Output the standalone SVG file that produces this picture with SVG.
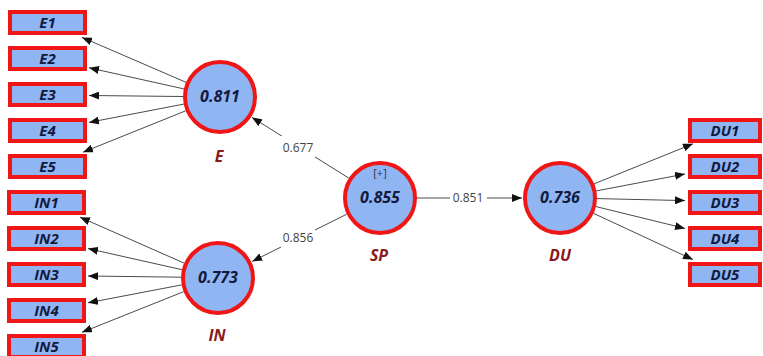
<svg xmlns="http://www.w3.org/2000/svg" width="763" height="356" viewBox="0 0 763 356">
  <style>
    .ind rect { fill: #8fb5f3; stroke: #f01616; stroke-width: 4; }
    .ind text { font-family: "Open Sans", "Noto Sans", sans-serif; font-size: 15px; font-weight: bold; font-style: italic; fill: #141a3c; text-anchor: middle; }
    .lv circle { fill: #8fb5f3; stroke: #f01616; stroke-width: 4; }
    .lv .val { font-family: "Open Sans", "Noto Sans", sans-serif; font-size: 16px; font-weight: bold; font-style: italic; fill: #141a3c; text-anchor: middle; }
    .lv .name { font-family: "Open Sans", "Noto Sans", sans-serif; font-size: 16px; font-weight: bold; font-style: italic; fill: #8b1a1a; text-anchor: middle; }
    .lv .plus { font-family: "Open Sans", "Noto Sans", sans-serif; font-size: 11px; fill: #333; text-anchor: middle; }
    .edge { stroke: #4a4a4a; stroke-width: 1; fill: none; marker-end: url(#arrow); }
    .coef rect { fill: #ffffff; }
    .coef text { font-family: "Open Sans", "Noto Sans", sans-serif; font-size: 12px; fill: #444; text-anchor: middle; }
  </style>
  <defs>
    <marker id="arrow" markerUnits="userSpaceOnUse" markerWidth="10" markerHeight="8" refX="10" refY="4" orient="auto">
      <path d="M0,0 L10,4 L0,8 z" fill="#111"/>
    </marker>
  </defs>

  <!-- connectors -->
  <g id="connectors">
    <!-- E loadings -->
    <line class="edge" x1="186" y1="82.3" x2="82" y2="37.4"/>
    <line class="edge" x1="183.9" y1="88.9" x2="89" y2="67.8"/>
    <line class="edge" x1="183" y1="96.5" x2="89" y2="95.5"/>
    <line class="edge" x1="183.7" y1="104.1" x2="89" y2="122.4"/>
    <line class="edge" x1="185.7" y1="110.8" x2="83" y2="152.2"/>
    <!-- IN loadings -->
    <line class="edge" x1="184.1" y1="263.1" x2="80" y2="217.2"/>
    <line class="edge" x1="182" y1="269.7" x2="88" y2="248.6"/>
    <line class="edge" x1="181" y1="277.2" x2="88" y2="276"/>
    <line class="edge" x1="181.7" y1="284.9" x2="88" y2="302.8"/>
    <line class="edge" x1="183.6" y1="291.7" x2="82" y2="332.3"/>
    <!-- DU loadings -->
    <line class="edge" x1="594.2" y1="183.8" x2="693" y2="143.8"/>
    <line class="edge" x1="596.3" y1="190.9" x2="685" y2="174"/>
    <line class="edge" x1="597" y1="198.6" x2="685" y2="200.6"/>
    <line class="edge" x1="596" y1="206.6" x2="685" y2="228.4"/>
    <line class="edge" x1="593.6" y1="213.4" x2="693" y2="259.6"/>
    <!-- structural paths -->
    <line class="edge" x1="348.8" y1="178.1" x2="252" y2="117.4"/>
    <line class="edge" x1="346.7" y1="214.2" x2="252.2" y2="261.4"/>
    <line class="edge" x1="417" y1="198" x2="522" y2="198"/>
    <g class="coef">
      <rect x="281" y="136" width="34" height="22"/>
      <text x="298" y="152">0.677</text>
      <rect x="281" y="228" width="34" height="20"/>
      <text x="298" y="242">0.856</text>
      <rect x="450" y="191" width="37" height="14"/>
      <text x="468" y="202">0.851</text>
    </g>
  </g>

  <!-- indicators of E -->
  <g id="E1" class="ind"><rect x="10" y="12" width="75" height="21"/><text x="47.5" y="28">E1</text></g>
  <g id="E2" class="ind"><rect x="10" y="48" width="75" height="21"/><text x="47.5" y="64">E2</text></g>
  <g id="E3" class="ind"><rect x="10" y="84" width="75" height="21"/><text x="47.5" y="100">E3</text></g>
  <g id="E4" class="ind"><rect x="10" y="120" width="75" height="21"/><text x="47.5" y="136">E4</text></g>
  <g id="E5" class="ind"><rect x="10" y="156" width="75" height="21"/><text x="47.5" y="172">E5</text></g>

  <!-- indicators of IN -->
  <g id="IN1" class="ind"><rect x="9" y="192" width="75" height="21"/><text x="46.5" y="208">IN1</text></g>
  <g id="IN2" class="ind"><rect x="9" y="228" width="75" height="21"/><text x="46.5" y="244">IN2</text></g>
  <g id="IN3" class="ind"><rect x="9" y="264" width="75" height="21"/><text x="46.5" y="280">IN3</text></g>
  <g id="IN4" class="ind"><rect x="9" y="300" width="75" height="21"/><text x="46.5" y="316">IN4</text></g>
  <g id="IN5" class="ind"><rect x="9" y="336" width="75" height="21"/><text x="46.5" y="352">IN5</text></g>

  <!-- indicators of DU -->
  <g id="DU1" class="ind"><rect x="690" y="120" width="70" height="21"/><text x="725" y="136">DU1</text></g>
  <g id="DU2" class="ind"><rect x="690" y="156" width="70" height="21"/><text x="725" y="172">DU2</text></g>
  <g id="DU3" class="ind"><rect x="690" y="192" width="70" height="21"/><text x="725" y="208">DU3</text></g>
  <g id="DU4" class="ind"><rect x="690" y="228" width="70" height="21"/><text x="725" y="244">DU4</text></g>
  <g id="DU5" class="ind"><rect x="690" y="264" width="70" height="21"/><text x="725" y="280">DU5</text></g>

  <!-- latent variables -->
  <g id="E" class="lv">
    <circle cx="220" cy="97" r="35"/>
    <text class="val" x="220" y="102">0.811</text>
    <text class="name" x="219" y="162">E</text>
  </g>
  <g id="IN" class="lv">
    <circle cx="218" cy="278" r="35"/>
    <text class="val" x="218" y="283">0.773</text>
    <text class="name" x="217" y="341">IN</text>
  </g>
  <g id="SP" class="lv">
    <circle cx="380" cy="198" r="35"/>
    <text class="plus" x="380" y="177">[+]</text>
    <text class="val" x="380" y="203">0.855</text>
    <text class="name" x="379" y="261">SP</text>
  </g>
  <g id="DU" class="lv">
    <circle cx="560" cy="198" r="35"/>
    <text class="val" x="560" y="203">0.736</text>
    <text class="name" x="560" y="261">DU</text>
  </g>
</svg>
